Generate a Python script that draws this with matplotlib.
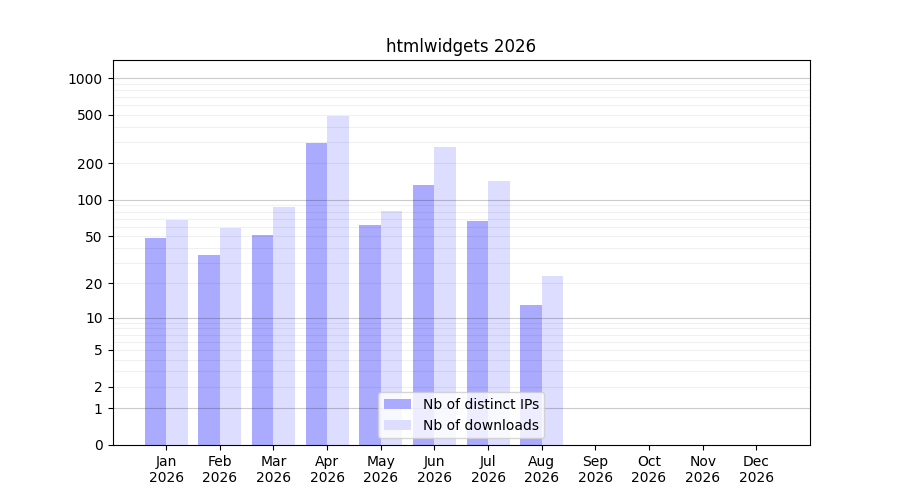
import numpy as np
import matplotlib
matplotlib.use("Agg")
import matplotlib.pyplot as plt

months = ["Jan", "Feb", "Mar", "Apr", "May", "Jun", "Jul", "Aug", "Sep", "Oct", "Nov", "Dec"]
year = "2026"
ips = [48, 35, 51, 294, 62, 133, 67, 13]
downloads = [68, 58, 87, 489, 81, 272, 143, 23]
ytick_vals = [0, 1, 2, 5, 10, 20, 50, 100, 200, 500, 1000]

def fwd(x):
    return np.log10(1 + np.clip(x, 0, None))

def inv(y):
    return 10 ** np.asarray(y) - 1

fig, ax = plt.subplots(figsize=(9, 5), dpi=100)
ax.set_yscale("function", functions=(fwd, inv))

x_ip = np.arange(len(ips))
x_dl = np.arange(len(downloads))
ax.bar(x_ip - 0.2, ips, width=0.4, color="#aaaaff", label="Nb of distinct IPs", zorder=1)
ax.bar(x_dl + 0.2, downloads, width=0.4, color="#ddddff", label="Nb of downloads", zorder=1)

# grid lines
for d in [1, 10, 100, 1000]:
    ax.axhline(d, color="black", alpha=0.2, lw=0.8, zorder=2)
for d in [1, 10, 100]:
    for m in range(2, 10):
        ax.axhline(d * m, color="black", alpha=0.06, lw=0.8, zorder=2)

ax.set_ylim(0, 1405)
ax.set_xlim(-1, 12)
ax.set_yticks(ytick_vals)
ax.set_yticklabels([str(v) for v in ytick_vals])
ax.yaxis.set_minor_locator(matplotlib.ticker.NullLocator())
ax.set_xticks(np.arange(len(months)))
ax.set_xticklabels([f"{m}\n{year}" for m in months])
ax.set_title("htmlwidgets 2026")
ax.legend(loc="lower center")

fig.savefig("out.png")
